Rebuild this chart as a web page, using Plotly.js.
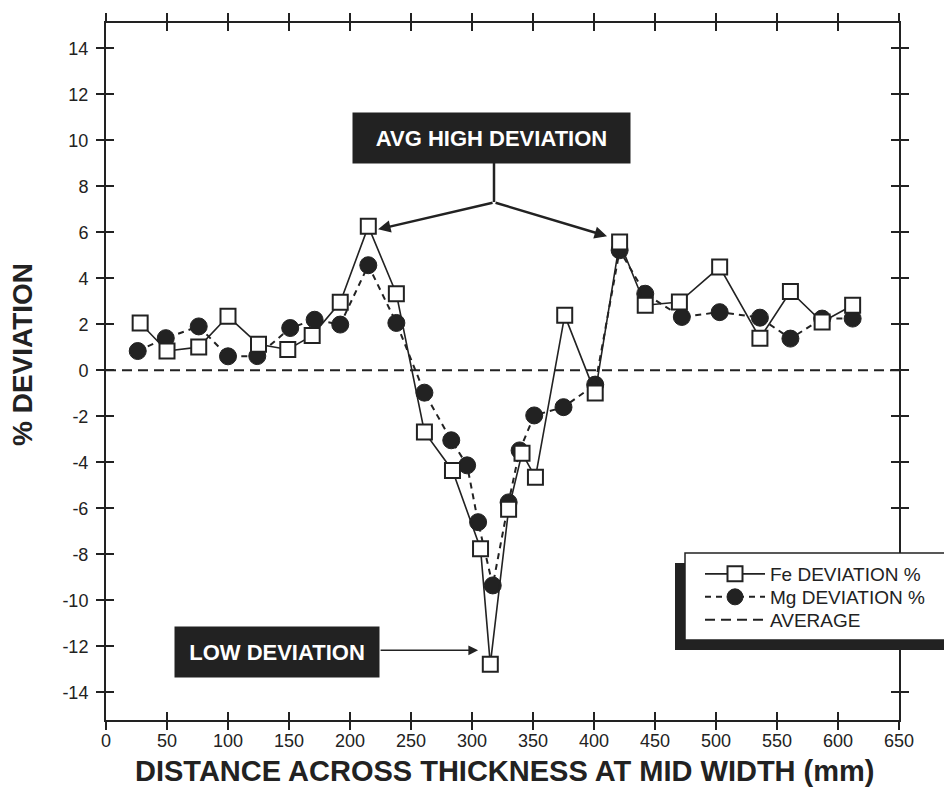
<!DOCTYPE html>
<html>
<head>
<meta charset="utf-8">
<script src="https://cdn.plot.ly/plotly-3.0.1.min.js"></script>
<style>html,body{margin:0;padding:0;background:#fff;}#chart{width:944px;height:797px;}</style>
</head>
<body>
<div id="chart"></div>
<script>
// ---- data ----
const feX = [28, 50, 76, 100, 125, 149, 169, 192, 215, 238, 261, 284, 307, 315, 330, 341, 352, 376, 401, 421, 442, 470, 503, 536, 561, 587, 612];
const feY = [2.06, 0.84, 1.01, 2.35, 1.13, 0.91, 1.51, 2.96, 6.26, 3.33, -2.68, -4.35, -7.75, -12.78, -6.04, -3.60, -4.65, 2.39, -0.99, 5.58, 2.83, 2.97, 4.49, 1.40, 3.43, 2.10, 2.83];
const mgX = [26, 49, 76, 100, 124, 151, 171, 192, 215, 238, 261, 283, 296, 305, 317, 330, 339, 351, 375, 401, 421, 442, 472, 503, 536, 561, 587, 612];
const mgY = [0.84, 1.40, 1.91, 0.61, 0.62, 1.84, 2.20, 1.99, 4.57, 2.06, -0.97, -3.04, -4.13, -6.60, -9.35, -5.74, -3.48, -1.96, -1.60, -0.62, 5.22, 3.33, 2.32, 2.53, 2.29, 1.38, 2.25, 2.25];
const avgX = [0, 650];
const avgY = [0, 0];
const seriesNames = ["Fe DEVIATION %", "Mg DEVIATION %", "AVERAGE"];
const yTickVals = [-14, -12, -10, -8, -6, -4, -2, 0, 2, 4, 6, 8, 10, 12, 14];
const yTickText = ["-14", "-12", "-10", "-8", "-6", "-4", "-2", "0", "2", "4", "6", "8", "10", "12", "14"];
const xTitle = "DISTANCE ACROSS THICKNESS AT MID WIDTH (mm)";
const yTitle = "% DEVIATION";
const highLabel = "AVG HIGH DEVIATION";
const lowLabel = "LOW DEVIATION";

// ---- styling ----
const INK = '#222';
const FONT = 'Liberation Sans, Arial, Helvetica, sans-serif';
const W = 944, H = 797;
const M = {l: 106, r: 45, t: 23, b: 77};
const PW = W - M.l - M.r, PH = H - M.t - M.b;
const px = x => (x - M.l) / PW;          // pixel -> paper x
const py = y => (H - M.b - y) / PH;      // pixel -> paper y

const legFont = {family: FONT, size: 19, color: INK};
const legBase = {xanchor: 'left', yanchor: 'middle', bgcolor: 'rgba(0,0,0,0)', borderwidth: 0,
                 font: legFont, itemwidth: 60};

const traces = [
  {
    name: seriesNames[1], x: mgX, y: mgY, type: 'scatter', mode: 'lines+markers',
    line: {color: INK, width: 2, dash: '6px,5px'},
    marker: {symbol: 'circle', size: 17, color: INK, line: {color: INK, width: 1}},
    legend: 'legend2'
  },
  {
    name: seriesNames[0], x: feX, y: feY, type: 'scatter', mode: 'lines+markers',
    line: {color: INK, width: 1.6},
    marker: {symbol: 'square', size: 15, color: '#fff', line: {color: INK, width: 2}},
    legend: 'legend'
  },
  {
    name: seriesNames[2], x: avgX, y: avgY, type: 'scatter', mode: 'lines',
    xaxis: 'x2', yaxis: 'y2',
    line: {color: INK, width: 2, dash: '10px,6px'},
    legend: 'legend3'
  }
];

const axBase = {
  showgrid: false, zeroline: false, tickcolor: INK, tickwidth: 2, ticklen: 8
};

const layout = {
  width: W, height: H, autosize: false,
  margin: M,
  paper_bgcolor: '#fff', plot_bgcolor: '#fff',
  font: {family: FONT, color: INK, size: 18},
  showlegend: true,
  legend: Object.assign({}, legBase, {x: px(700), y: py(574)}),
  legend2: Object.assign({}, legBase, {x: px(700), y: py(597)}),
  legend3: Object.assign({}, legBase, {x: px(700), y: py(620)}),
  xaxis: Object.assign({}, axBase, {
    range: [0, 650], tick0: 0, dtick: 50, ticks: 'outside',
    showline: true, linecolor: INK, linewidth: 2, mirror: 'ticks',
    tickfont: {family: FONT, size: 18, color: INK}, ticklabelstandoff: -5
  }),
  yaxis: Object.assign({}, axBase, {
    range: [-15.2, 15.1], tickmode: 'array', tickvals: yTickVals, ticktext: yTickText,
    ticks: 'outside', showline: true, linecolor: INK, linewidth: 2, mirror: 'ticks',
    tickfont: {family: FONT, size: 18, color: INK}, ticklabelstandoff: 4
  }),
  xaxis2: Object.assign({}, axBase, {
    overlaying: 'x', side: 'bottom', anchor: 'y2', range: [0, 650], tick0: 0, dtick: 50,
    ticks: 'inside', mirror: 'ticks', showticklabels: false, showline: true, linecolor: INK, linewidth: 2
  }),
  yaxis2: Object.assign({}, axBase, {
    overlaying: 'y', side: 'left', anchor: 'x2', range: [-15.2, 15.1], tickmode: 'array', tickvals: yTickVals,
    ticks: 'inside', mirror: 'ticks', showticklabels: false, showline: true, linecolor: INK, linewidth: 2
  }),
  shapes: [
    {type: 'rect', xref: 'paper', yref: 'paper', layer: 'above',
     x0: px(675), x1: px(960), y0: py(650), y1: py(563),
     fillcolor: INK, line: {width: 0}},
    {type: 'rect', xref: 'paper', yref: 'paper', layer: 'above',
     x0: px(685), x1: px(960), y0: py(640), y1: py(553),
     fillcolor: '#fff', line: {color: INK, width: 1.5}},
    {type: 'line', xref: 'paper', yref: 'paper', layer: 'above',
     x0: px(494), x1: px(494), y0: py(163), y1: py(202),
     line: {color: INK, width: 2.5}}
  ],
  annotations: [
    {text: yTitle, xref: 'paper', yref: 'paper', x: px(22), y: py(355),
     xanchor: 'center', yanchor: 'middle', textangle: -90, showarrow: false,
     font: {family: FONT, size: 28, color: INK, weight: 700}},
    {text: xTitle, xref: 'paper', yref: 'paper', x: px(505), y: py(771),
     xanchor: 'center', yanchor: 'middle', showarrow: false,
     font: {family: FONT, size: 29, color: INK, weight: 700}},
    {text: highLabel, xref: 'paper', yref: 'paper', x: px(491.5), y: py(138),
     xanchor: 'center', yanchor: 'middle', showarrow: false,
     width: 277, height: 50, borderpad: 0, bgcolor: INK,
     font: {family: FONT, size: 22, color: '#fff', weight: 700}},
    {text: lowLabel, xref: 'paper', yref: 'paper', x: px(277), y: py(652),
     xanchor: 'center', yanchor: 'middle', showarrow: false,
     width: 204, height: 50, borderpad: 0, bgcolor: INK,
     font: {family: FONT, size: 22, color: '#fff', weight: 700}},
    {text: '', xref: 'x', yref: 'y', x: 223, y: 6.13, ax: 116, ay: -27,
     showarrow: true, arrowhead: 2, arrowsize: 1, arrowwidth: 2.5, arrowcolor: INK},
    {text: '', xref: 'x', yref: 'y', x: 410.7, y: 5.83, ax: -113, ay: -34,
     showarrow: true, arrowhead: 2, arrowsize: 1, arrowwidth: 2.5, arrowcolor: INK},
    {text: '', xref: 'x', yref: 'y', x: 305, y: -12.17, ax: -99, ay: 0,
     showarrow: true, arrowhead: 2, arrowsize: 1.3, arrowwidth: 1.5, arrowcolor: INK}
  ]
};

Plotly.newPlot('chart', traces, layout, {staticPlot: true, displayModeBar: false});
</script>
</body>
</html>
